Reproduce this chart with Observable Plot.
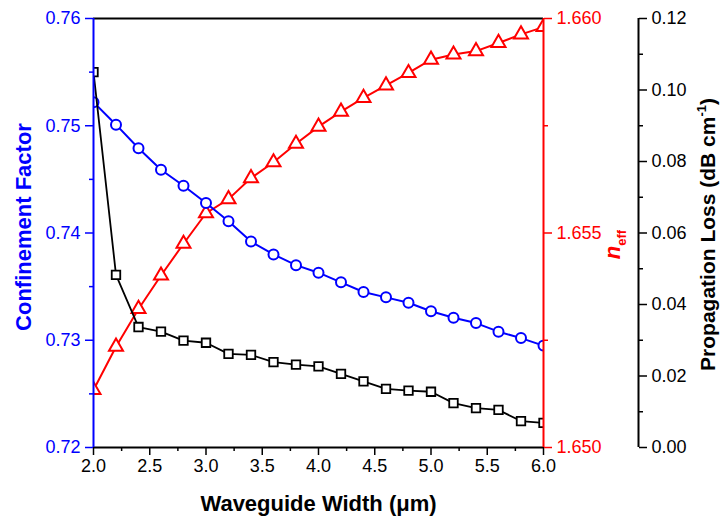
<!DOCTYPE html>
<html>
<head>
<meta charset="utf-8">
<script src="https://cdn.jsdelivr.net/npm/d3@7"></script>
<script src="https://cdn.jsdelivr.net/npm/@observablehq/plot@0.6"></script>
<style>
  html, body { margin: 0; padding: 0; background: white; }
</style>
</head>
<body>
<div id="chart"></div>
<script>
// ---- data ----
const widths = [2.0, 2.2, 2.4, 2.6, 2.8, 3.0, 3.2, 3.4, 3.6, 3.8, 4.0, 4.2, 4.4, 4.6, 4.8, 5.0, 5.2, 5.4, 5.6, 5.8, 6.0];
const confinement = [0.7522, 0.7501, 0.7479, 0.7459, 0.7444, 0.7428, 0.7411, 0.7392, 0.7380, 0.7370, 0.7363, 0.7354, 0.7345, 0.7340, 0.7335, 0.7327, 0.7321, 0.7316, 0.7308, 0.7302, 0.7295];
const neff = [1.65134, 1.65235, 1.65323, 1.65401, 1.65475, 1.65546, 1.65579, 1.65628, 1.65665, 1.65708, 1.65748, 1.65783, 1.65815, 1.65844, 1.65873, 1.65904, 1.65916, 1.65924, 1.65943, 1.65963, 1.65980];
const loss = [0.1050, 0.0483, 0.0337, 0.0324, 0.0299, 0.0293, 0.0262, 0.0259, 0.0239, 0.0232, 0.0227, 0.0206, 0.0185, 0.0164, 0.0159, 0.0156, 0.0124, 0.0110, 0.0105, 0.0074, 0.0069];

const xMajor = [2.0, 2.5, 3.0, 3.5, 4.0, 4.5, 5.0, 5.5, 6.0];
const xMinor = [2.25, 2.75, 3.25, 3.75, 4.25, 4.75, 5.25, 5.75];
const cfMajor = [0.72, 0.73, 0.74, 0.75, 0.76];
const cfMinor = [0.725, 0.735, 0.745, 0.755];
const nMajor = [1.650, 1.655, 1.660];
const nMinor = [1.6525, 1.6575];
const lossMajor = [0.00, 0.02, 0.04, 0.06, 0.08, 0.10, 0.12];
const lossMinor = [0.01, 0.03, 0.05, 0.07, 0.09, 0.11];

const cfDomain = [0.72, 0.76];
const nDomain = [1.650, 1.660];
const lossDomain = [0, 0.12];

// secondary axes mapped onto the primary y scale
const toN = d3.scaleLinear(nDomain, cfDomain);
const toL = d3.scaleLinear(lossDomain, cfDomain);

const rows = widths.map((w, i) => ({w, cf: confinement[i], n: toN(neff[i]), l: toL(loss[i])}));

const FONT = "'Liberation Sans', Arial, Helvetica, sans-serif";
const LOSS_DX = 95;

const chart = Plot.plot({
  width: 721,
  height: 518,
  marginLeft: 93,
  marginRight: 178,
  marginTop: 18,
  marginBottom: 71,
  style: {fontFamily: FONT, fontSize: "18px", background: "white", overflow: "visible"},
  x: {domain: [2, 6], axis: null},
  y: {domain: cfDomain, axis: null},
  marks: [
    // series (clipped to the frame like the original)
    Plot.line(rows, {x: "w", y: "n", stroke: "red", strokeWidth: 2, clip: true}),
    Plot.dot(rows, {x: "w", y: "n", symbol: "triangle", r: 5.2, stroke: "red", strokeWidth: 2, fill: "white", clip: true}),
    Plot.line(rows, {x: "w", y: "cf", stroke: "blue", strokeWidth: 2, clip: true}),
    Plot.dot(rows, {x: "w", y: "cf", symbol: "circle", r: 5, stroke: "blue", strokeWidth: 2, fill: "white", clip: true}),
    Plot.line(rows, {x: "w", y: "l", stroke: "black", strokeWidth: 1.8, clip: true}),
    Plot.dot(rows, {x: "w", y: "l", symbol: "square", r: 4.8, stroke: "black", strokeWidth: 1.8, fill: "white", clip: true}),
    // bottom x axis
    Plot.axisX({ticks: xMajor, label: null, tickSize: 8, tickPadding: 4, tickFormat: d3.format(".1f"), strokeWidth: 1.5, color: "black"}),
    Plot.axisX({ticks: xMinor, label: null, tickSize: 4, tickFormat: () => "", strokeWidth: 1.5, color: "black"}),
    // left axis (blue)
    Plot.axisY({ticks: cfMajor, label: null, tickSize: 8, tickPadding: 5, tickFormat: d3.format(".2f"), strokeWidth: 1.5, color: "blue"}),
    Plot.axisY({ticks: cfMinor, label: null, tickSize: 4, tickFormat: () => "", strokeWidth: 1.5, color: "blue"}),
    // right axis (red, n_eff)
    Plot.axisY({anchor: "right", label: null, ticks: nMajor.map(toN), tickSize: 8, tickPadding: 5,
      tickFormat: d => d3.format(".3f")(toN.invert(d)), strokeWidth: 1.5, color: "red"}),
    Plot.axisY({anchor: "right", label: null, ticks: nMinor.map(toN), tickSize: 4, tickFormat: () => "", strokeWidth: 1.5, color: "red"}),
    // far right axis (black, loss)
    Plot.axisY({anchor: "right", label: null, dx: LOSS_DX, ticks: lossMajor.map(toL), tickSize: 8, tickPadding: 5,
      tickFormat: d => d3.format(".2f")(toL.invert(d)), strokeWidth: 1.5, color: "black"}),
    Plot.axisY({anchor: "right", label: null, dx: LOSS_DX, ticks: lossMinor.map(toL), tickSize: 4, tickFormat: () => "", strokeWidth: 1.5, color: "black"}),
    // frame spines
    Plot.ruleY([cfDomain[1]], {stroke: "black", strokeWidth: 2}),
    Plot.ruleY([cfDomain[0]], {stroke: "black", strokeWidth: 2}),
    Plot.ruleX([6], {stroke: "red", strokeWidth: 2}),
    Plot.ruleX([2], {stroke: "blue", strokeWidth: 2}),
    Plot.ruleX([6], {dx: LOSS_DX, stroke: "black", strokeWidth: 2}),
    // axis titles
    Plot.text(["Confinement Factor"], {frameAnchor: "left", dx: -70, dy: -6, rotate: -90, textAnchor: "middle", lineAnchor: "middle",
      fill: "blue", fontWeight: "bold", fontSize: 22}),
    Plot.text(["Waveguide Width (\u03bcm)"], {frameAnchor: "bottom", dy: 56, textAnchor: "middle", lineAnchor: "middle",
      fill: "black", fontWeight: "bold", fontSize: 22})
  ]
});

const svg = d3.select(chart);
const xs = chart.scale("x"), ys = chart.scale("y");
const xRight = xs.apply(6);
const yMid = (ys.apply(cfDomain[0]) + ys.apply(cfDomain[1])) / 2;

// n_eff title
const nt = svg.append("text")
  .attr("transform", `translate(${xRight + 77},${yMid + 12}) rotate(-90)`)
  .attr("text-anchor", "middle")
  .attr("fill", "red")
  .attr("font-family", FONT)
  .attr("font-weight", "bold")
  .attr("font-size", 22);
nt.append("tspan").attr("font-style", "italic").text("n");
nt.append("tspan").attr("font-size", 13).attr("dy", 6).text("eff");

// propagation loss title
const lt = svg.append("text")
  .attr("transform", `translate(${xRight + 172},${yMid + 2}) rotate(-90)`)
  .attr("text-anchor", "middle")
  .attr("fill", "black")
  .attr("font-family", FONT)
  .attr("font-weight", "bold")
  .attr("font-size", 21);
lt.append("tspan").text("Propagation Loss (dB cm");
lt.append("tspan").attr("font-size", 13).attr("dy", -9).text("-1");
lt.append("tspan").attr("dy", 9).text(")");

document.getElementById("chart").appendChild(chart);
</script>
</body>
</html>
